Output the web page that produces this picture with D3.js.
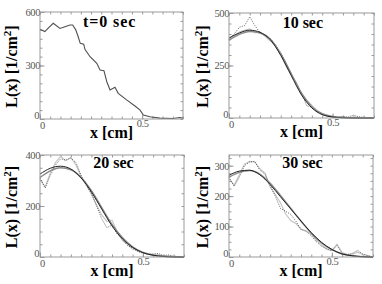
<!DOCTYPE html>
<html>
<head>
<meta charset="utf-8">
<script src="https://cdn.jsdelivr.net/npm/d3@7"></script>
<style>
  body { margin: 0; background: #fff; }
  svg text { font-family: 'Liberation Serif', 'Times New Roman', 'DejaVu Serif', serif; }
</style>
</head>
<body>
<div id="chart"></div>
<script>
// measured profiles L(x) [1/cm^2] vs x [cm]
const t0X = [0, 0.024, 0.045, 0.065, 0.098, 0.122, 0.147, 0.16, 0.175, 0.187, 0.197, 0.214, 0.22, 0.245, 0.278,
  0.294, 0.313, 0.327, 0.343, 0.367, 0.383, 0.424, 0.465, 0.49, 0.506, 0.538, 0.587, 0.65, 0.685, 0.7];
const t0L = [503, 490, 515, 537, 508, 517, 527, 527, 500, 461, 424, 420, 391, 349, 312,
  275, 271, 209, 163, 178, 144, 107, 73, 50, 22, 13, 5, 3, 8, 5];

// sampled x for the later profiles
const xs = [0, 0.025, 0.05, 0.075, 0.1, 0.125, 0.15, 0.175, 0.2, 0.225, 0.25, 0.275, 0.3, 0.325, 0.35,
  0.375, 0.4, 0.425, 0.45, 0.475, 0.5, 0.525, 0.55, 0.575, 0.6, 0.625, 0.65, 0.675, 0.7];
// x for the smooth fitted curves
const fitX = [0, 0.05, 0.1, 0.15, 0.2, 0.25, 0.3, 0.35, 0.4, 0.45, 0.5, 0.55, 0.6, 0.65, 0.7];

const t10Dot = [375, 400, 432, 440, 482, 440, 405, 395, 378, 348, 310, 265, 212, 160, 120,
  58, 52, 30, 20, 8, 5, 3, 8, 4, 14, 6, 3, 2, 0];
const t10Gray = [372, 392, 410, 418, 425, 405, 410, 388, 365, 345, 300, 248, 205, 170, 115,
  85, 60, 35, 18, 10, 4, 6, 3, 2, 5, 3, 1, 2, 0];
const t10Fit1 = [381, 405, 418, 408, 372, 298, 203, 110, 48, 16, 5, 1, 0, 0, 0];
const t10Fit2 = [370, 398, 412, 405, 375, 305, 212, 118, 54, 20, 7, 2, 0, 0, 0];

const t20Dot = [310, 270, 320, 360, 385, 380, 388, 370, 320, 280, 250, 200, 150, 115, 125,
  90, 70, 45, 35, 22, 15, 10, 12, 14, 6, 8, 3, 2, 0];
const t20Gray = [305, 275, 330, 370, 395, 378, 390, 360, 315, 285, 245, 205, 165, 140, 145,
  100, 65, 50, 30, 25, 18, 14, 10, 9, 5, 4, 2, 1, 0];
const t20Fit1 = [325, 348, 356, 345, 310, 255, 188, 122, 72, 38, 17, 7, 2, 0, 0];
const t20Fit2 = [312, 338, 350, 342, 312, 260, 194, 128, 76, 40, 18, 7, 3, 1, 0];

const t30Dot = [262, 232, 262, 300, 312, 314, 285, 272, 235, 200, 160, 150, 140, 118, 90,
  84, 70, 50, 35, 28, 20, 38, 12, 8, 12, 22, 10, 5, 0];
const t30Gray = [258, 236, 270, 305, 314, 312, 290, 276, 230, 205, 178, 142, 120, 110, 92,
  86, 75, 55, 40, 25, 22, 42, 15, 8, 10, 16, 8, 4, 0];
const t30Fit1 = [268, 282, 285, 270, 238, 198, 158, 118, 80, 48, 25, 10, 4, 1, 0];
const t30Fit2 = [262, 278, 284, 272, 242, 202, 160, 118, 78, 46, 24, 10, 4, 1, 0];

const panelLabels = ['t=0 sec', '10 sec', '20 sec', '30 sec'];
const yMax = [600, 500, 400, 335];
const yMajor = [[0, 300, 600], [0, 250, 500], [0, 200, 400], [0, 100, 200, 300]];
const yMinorStep = [50, 50, 50, 25];
const xMajor = [0, 0.5];

const SERIF = "'Liberation Serif', 'Times New Roman', 'DejaVu Serif', serif";
const W = 382, H = 284;
const svg = d3.select('#chart').append('svg')
  .attr('width', W)
  .attr('height', H)
  .attr('font-family', SERIF);

// plot frames (left, top, right, bottom)
const boxes = [
  { l: 40, t: 12, r: 183, b: 119 },
  { l: 229, t: 13, r: 374, b: 118 },
  { l: 40, t: 155, r: 184, b: 257 },
  { l: 229, t: 155, r: 373, b: 257 }
];

const series = [
  [{ x: t0X, y: t0L, color: '#505050', width: 1.1 }],
  [
    { x: xs, y: t10Gray, color: '#c4c4c4', width: 1.1 },
    { x: xs, y: t10Dot, color: '#222', width: 0.7, dash: '1,1.3' },
    { x: fitX, y: t10Fit2, color: '#8a8a8a', width: 1.5 },
    { x: fitX, y: t10Fit1, color: '#222', width: 1 }
  ],
  [
    { x: xs, y: t20Gray, color: '#c4c4c4', width: 1.1 },
    { x: xs, y: t20Dot, color: '#222', width: 0.7, dash: '1,1.3' },
    { x: fitX, y: t20Fit2, color: '#8a8a8a', width: 1.5 },
    { x: fitX, y: t20Fit1, color: '#222', width: 1 }
  ],
  [
    { x: xs, y: t30Gray, color: '#c4c4c4', width: 1.1 },
    { x: xs, y: t30Dot, color: '#222', width: 0.7, dash: '1,1.3' },
    { x: fitX, y: t30Fit2, color: '#8a8a8a', width: 1.5 },
    { x: fitX, y: t30Fit1, color: '#222', width: 1 }
  ]
];

const xMinor = d3.range(0, 0.7001, 0.05);

boxes.forEach((box, i) => {
  const w = box.r - box.l, h = box.b - box.t;
  const g = svg.append('g').attr('transform', `translate(${box.l},${box.t})`);

  const x = d3.scaleLinear().domain([0, 0.7]).range([0, w]);
  const y = d3.scaleLinear().domain([0, yMax[i]]).range([h, 0]);
  const yMinor = d3.range(0, yMax[i] + 0.001, yMinorStep[i]);

  // minor ticks on all four sides, pointing inward
  const minor = [
    [d3.axisBottom(x).tickValues(xMinor), `translate(0,${h})`],
    [d3.axisTop(x).tickValues(xMinor), null],
    [d3.axisLeft(y).tickValues(yMinor), null],
    [d3.axisRight(y).tickValues(yMinor), `translate(${w},0)`]
  ];
  minor.forEach(([ax, tr]) => {
    const a = g.append('g').call(ax.tickSize(-2.5).tickFormat(''));
    if (tr) a.attr('transform', tr);
    a.select('.domain').remove();
    a.selectAll('line').attr('stroke', '#999');
  });

  // labelled major ticks
  const xa = g.append('g')
    .attr('transform', `translate(0,${h})`)
    .call(d3.axisBottom(x).tickValues(xMajor).tickSize(-4.5).tickPadding(1)
      .tickFormat(d => d === 0 ? '0' : d3.format('.1f')(d)));
  const ya = g.append('g')
    .call(d3.axisLeft(y).tickValues(yMajor[i]).tickSize(-4.5).tickPadding(0).tickFormat(d3.format('d')));
  [xa, ya].forEach(a => {
    a.attr('font-family', SERIF).attr('font-size', 10.5);
    a.select('.domain').remove();
    a.selectAll('line').attr('stroke', '#999');
    a.selectAll('text')
      .attr('fill', '#555')
      .attr('letter-spacing', -0.4);
  });
  // the two corner zeros sit side by side
  xa.selectAll('text').filter(d => d === 0).attr('dx', 2).attr('y', 3);
  ya.selectAll('text').filter(d => d === 0).attr('dy', '-0.05em').attr('x', -1);

  // curves
  series[i].forEach(s => {
    const line = d3.line()
      .x((d, k) => x(s.x[k]))
      .y(d => y(d))
      .curve(s.x === fitX ? d3.curveMonotoneX : d3.curveLinear);
    g.append('path')
      .attr('d', line(s.y))
      .attr('fill', 'none')
      .attr('stroke', s.color)
      .attr('stroke-width', s.width)
      .attr('stroke-dasharray', s.dash || null);
  });

  // frame
  g.append('rect')
    .attr('width', w).attr('height', h)
    .attr('fill', 'none')
    .attr('stroke', '#9a9a9a')
    .attr('stroke-width', 1);

  // panel label
  g.append('text')
    .attr('x', i === 0 ? 43 : w * 0.37)
    .attr('y', i >= 2 ? 13 : 15)
    .attr('font-size', 16)
    .attr('font-weight', 'bold')
    .attr('letter-spacing', i === 0 ? 0.9 : 0)
    .text(panelLabels[i]);

  // axis titles
  g.append('text')
    .attr('x', w / 2)
    .attr('y', h + 19)
    .attr('text-anchor', 'middle')
    .attr('font-size', 16)
    .attr('font-weight', 'bold')
    .text('x [cm]');

  const yt = g.append('text')
    .attr('transform', `translate(${i % 2 === 0 ? -23 : -21},${h / 2 + 1}) rotate(-90)`)
    .attr('text-anchor', 'middle')
    .attr('font-size', 16)
    .attr('font-weight', 'bold');
  yt.append('tspan').text('L(x) [1/cm');
  yt.append('tspan').attr('font-size', 11).attr('dy', -6).text('2');
  yt.append('tspan').attr('dy', 6).text(']');
});
</script>
</body>
</html>
